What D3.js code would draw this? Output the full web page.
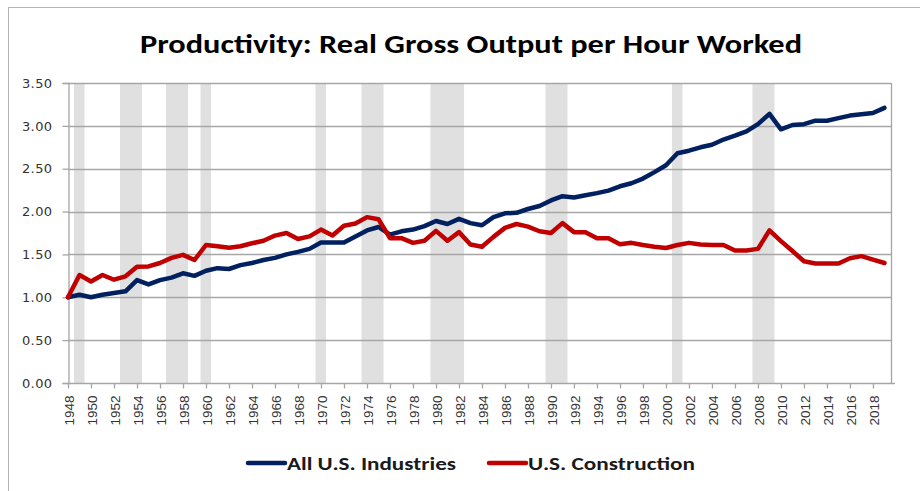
<!DOCTYPE html>
<html>
<head>
<meta charset="utf-8">
<script src="https://cdn.jsdelivr.net/npm/d3@7"></script>
<style>
    body { margin: 0; background: #ffffff; }
    svg { display: block; }
</style>
</head>
<body>
<div id="chartContainer"></div>
<script>
var width = 920;
var height = 491;

// Data
var years = d3.range(1948, 2020);
var allIndustries = [
    1.00, 1.03, 1.00, 1.03, 1.05, 1.07, 1.20, 1.15, 1.20, 1.23,
    1.28, 1.25, 1.31, 1.34, 1.33, 1.375, 1.40, 1.435, 1.46, 1.50,
    1.53, 1.565, 1.64, 1.64, 1.64, 1.71, 1.78, 1.82, 1.73, 1.77,
    1.79, 1.83, 1.89, 1.855, 1.915, 1.865, 1.84, 1.935, 1.98, 1.985,
    2.03, 2.065, 2.13, 2.18, 2.165, 2.19, 2.215, 2.245, 2.295, 2.33,
    2.385, 2.46, 2.54, 2.68, 2.71, 2.75, 2.78, 2.84, 2.885, 2.935,
    3.02, 3.14, 2.96, 3.01, 3.02, 3.06, 3.06, 3.09, 3.12, 3.135,
    3.15, 3.21
];
var construction = [
    1.00, 1.26, 1.185, 1.26, 1.205, 1.245, 1.355, 1.36, 1.40, 1.46,
    1.495, 1.435, 1.61, 1.595, 1.578, 1.595, 1.63, 1.66, 1.72, 1.75,
    1.68, 1.71, 1.79, 1.72, 1.835, 1.86, 1.935, 1.91, 1.69, 1.69,
    1.635, 1.66, 1.775, 1.66, 1.76, 1.615, 1.59, 1.705, 1.81, 1.855,
    1.825, 1.77, 1.75, 1.865, 1.76, 1.76, 1.69, 1.69, 1.62, 1.635,
    1.61, 1.59, 1.575, 1.61, 1.635, 1.615, 1.61, 1.61, 1.545, 1.545,
    1.565, 1.78, 1.655, 1.54, 1.42, 1.395, 1.395, 1.395, 1.455, 1.48,
    1.44, 1.40
];
var recessionYears = [1949, 1953, 1954, 1957, 1958, 1960, 1970, 1974, 1975,
    1980, 1981, 1982, 1990, 1991, 2001, 2008, 2009];
var yTicks = [0, 0.5, 1, 1.5, 2, 2.5, 3, 3.5];
var xTickYears = d3.range(1948, 2020, 2);

var seriesNames = ['All U.S. Industries', 'U.S. Construction'];
var seriesColors = ['#002060', '#c00000'];

var titleText = 'Productivity: Real Gross Output per Hour Worked';

// Layout
var plotLeft = 68;
var plotRight = 891;
var plotTop = 83;
var plotBottom = 383;

var gridColor = '#a6a6a6';
var bandColor = '#e0e0e0';

var x = d3.scaleLinear().domain([1948, 2019.57]).range([plotLeft, plotRight]);
var y = d3.scaleLinear().domain([0, 3.5]).range([plotBottom, plotTop]);


// Join consecutive recession years into one band
function recessionRanges() {
    var ranges = [];
    recessionYears.forEach(function (year) {
        var last = ranges[ranges.length - 1];
        if (last && last.end === year - 1) {
            last.end = year;
        } else {
            ranges.push({ start: year, end: year });
        }
    });
    return ranges;
}

function addBorder(svg) {
    svg.append('rect')
        .attr('x', 8.5)
        .attr('y', 7.5)
        .attr('width', 1000)
        .attr('height', 1000)
        .attr('fill', 'none')
        .attr('stroke', '#b4b4b4')
        .attr('stroke-width', 1);
}

function addTitle(svg) {
    svg.append('text')
        .attr('x', 140)
        .attr('y', 53)
        .attr('textLength', 662)
        .attr('lengthAdjust', 'spacingAndGlyphs')
        .attr('font-family', 'Carlito, "Open Sans", sans-serif')
        .attr('font-weight', 'bold')
        .attr('font-size', '26px')
        .attr('fill', '#000000')
        .text(titleText);
}

function addRecessionBands(svg) {
    svg.append('g').selectAll('rect')
        .data(recessionRanges())
        .enter()
        .append('rect')
        .attr('x', function (d) { return x(d.start - 0.48); })
        .attr('y', plotTop)
        .attr('width', function (d) { return x(d.end + 0.44) - x(d.start - 0.48); })
        .attr('height', plotBottom - plotTop)
        .attr('fill', bandColor);
}

function addGrid(svg) {
    svg.append('g').selectAll('line')
        .data(yTicks.filter(function (d) { return d > 0; }))
        .enter()
        .append('line')
        .attr('x1', plotLeft)
        .attr('x2', plotRight)
        .attr('y1', function (d) { return Math.round(y(d)) + 0.5; })
        .attr('y2', function (d) { return Math.round(y(d)) + 0.5; })
        .attr('stroke', gridColor)
        .attr('stroke-width', 1.3);

    // right edge of the plot
    svg.append('line')
        .attr('x1', plotRight + 0.5)
        .attr('x2', plotRight + 0.5)
        .attr('y1', plotTop)
        .attr('y2', plotBottom)
        .attr('stroke', gridColor)
        .attr('stroke-width', 1.3);
}

function addYAxis(svg) {
    var axis = d3.axisLeft(y)
        .tickValues(yTicks)
        .tickSize(6)
        .tickPadding(10)
        .tickFormat(d3.format('.2f'));

    var g = svg.append('g')
        .attr('transform', 'translate(' + (plotLeft + 0.5) + ',0)')
        .call(axis);

    g.select('.domain').attr('stroke', gridColor).attr('stroke-width', 1.3);
    g.selectAll('.tick line').attr('stroke', gridColor).attr('stroke-width', 1.3);
    g.selectAll('.tick text')
        .attr('font-family', '"DejaVu Sans", Verdana, sans-serif')
        .attr('font-size', '13px')
        .attr('letter-spacing', '0.4px')
        .attr('fill', '#333333');
}

function addXAxis(svg) {
    var axis = d3.axisBottom(x)
        .tickValues(xTickYears)
        .tickSize(5)
        .tickSizeOuter(0)
        .tickFormat(d3.format('d'));

    var g = svg.append('g')
        .attr('transform', 'translate(0,' + (plotBottom + 0.5) + ')')
        .call(axis);

    g.select('.domain')
        .attr('d', 'M' + plotLeft + ',0H' + (plotRight + 4))
        .attr('stroke', gridColor)
        .attr('stroke-width', 1.3);
    g.selectAll('.tick line').attr('stroke', gridColor).attr('stroke-width', 1.3);
    g.selectAll('.tick text')
        .attr('font-family', '"Liberation Sans", Arial, sans-serif')
        .attr('font-size', '13.5px')
        .attr('fill', '#333333')
        .attr('text-anchor', 'end')
        .attr('transform', 'translate(1,12) rotate(-90)')
        .attr('x', 0)
        .attr('y', 0)
        .attr('dy', '0.36em');
}

function addSeries(svg, values, color) {
    var line = d3.line()
        .x(function (d, i) { return x(years[i]); })
        .y(function (d) { return y(d); });

    svg.append('path')
        .datum(values)
        .attr('d', line)
        .attr('fill', 'none')
        .attr('stroke', color)
        .attr('stroke-width', 4.5)
        .attr('stroke-linejoin', 'round')
        .attr('stroke-linecap', 'round');
}

function addLegend(svg) {
    var items = [
        { name: seriesNames[0], color: seriesColors[0], x1: 248, textLength: 169 },
        { name: seriesNames[1], color: seriesColors[1], x1: 489, textLength: 167 }
    ];
    var legendY = 463;

    var g = svg.append('g').selectAll('g')
        .data(items)
        .enter()
        .append('g');

    g.append('line')
        .attr('x1', function (d) { return d.x1; })
        .attr('x2', function (d) { return d.x1 + 37; })
        .attr('y1', legendY)
        .attr('y2', legendY)
        .attr('stroke', function (d) { return d.color; })
        .attr('stroke-width', 4.5)
        .attr('stroke-linecap', 'round');

    g.append('text')
        .attr('x', function (d) { return d.x1 + 39; })
        .attr('y', legendY + 7)
        .attr('textLength', function (d) { return d.textLength; })
        .attr('lengthAdjust', 'spacingAndGlyphs')
        .attr('font-family', 'Carlito, "Open Sans", sans-serif')
        .attr('font-weight', 'bold')
        .attr('font-size', '19px')
        .attr('fill', '#1a1a1a')
        .text(function (d) { return d.name; });
}

var svg = d3.select('#chartContainer').append('svg')
    .attr('width', width)
    .attr('height', height);

addBorder(svg);
addTitle(svg);
addRecessionBands(svg);
addGrid(svg);
addYAxis(svg);
addXAxis(svg);
addSeries(svg, allIndustries, seriesColors[0]);
addSeries(svg, construction, seriesColors[1]);
addLegend(svg);
</script>
</body>
</html>
